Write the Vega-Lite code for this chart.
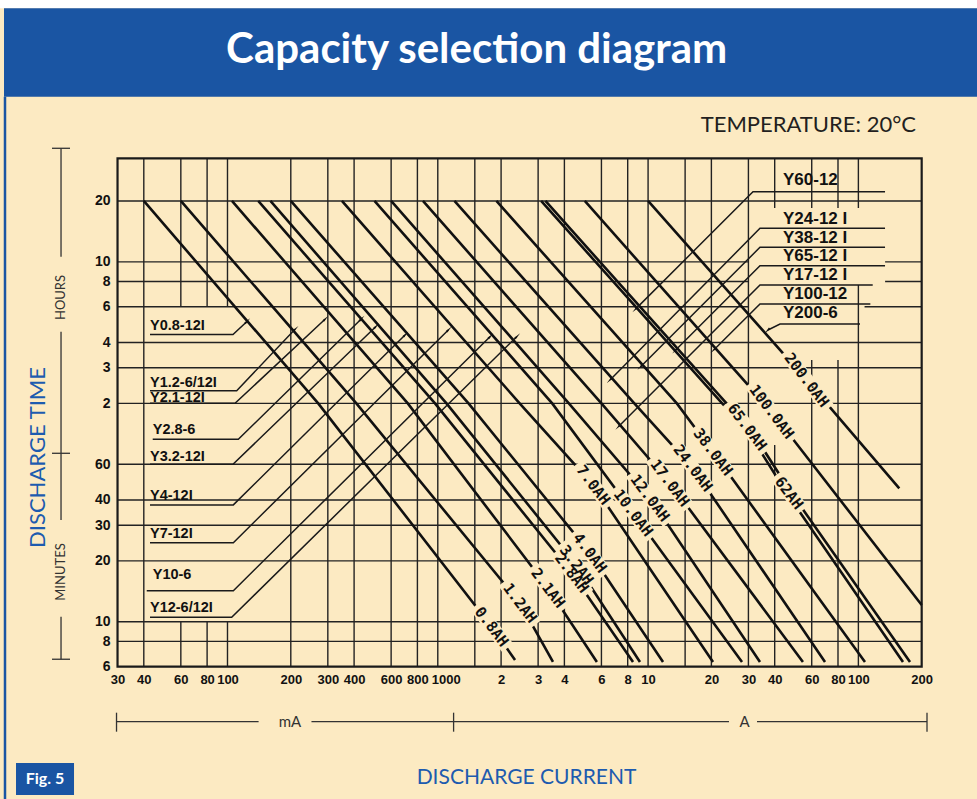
{
  "$schema": "https://vega.github.io/schema/vega-lite/v6.json",
  "width": 977,
  "height": 799,
  "autosize": {"type": "none"},
  "padding": 0,
  "background": "#FCEAC2",
  "config": {"view": {"stroke": null}},
  "datasets": {
    "vgrid": [
      {"I": 0.04, "t": 1950, "t2": 6},
      {"I": 0.06, "t": 1950, "t2": 360}, {"I": 0.06, "t": 10, "t2": 6},
      {"I": 0.08, "t": 1950, "t2": 360}, {"I": 0.08, "t": 10, "t2": 6},
      {"I": 0.1, "t": 1950, "t2": 360}, {"I": 0.1, "t": 10, "t2": 6},
      {"I": 0.2, "t": 1950, "t2": 6}, {"I": 0.3, "t": 1950, "t2": 6},
      {"I": 0.4, "t": 1950, "t2": 6}, {"I": 0.6, "t": 1950, "t2": 6},
      {"I": 0.8, "t": 1950, "t2": 6}, {"I": 1, "t": 1950, "t2": 6},
      {"I": 1.5, "t": 1950, "t2": 6}, {"I": 2, "t": 1950, "t2": 6},
      {"I": 3, "t": 1950, "t2": 6}, {"I": 4, "t": 1950, "t2": 6},
      {"I": 6, "t": 1950, "t2": 6}, {"I": 8, "t": 1950, "t2": 6},
      {"I": 10, "t": 1950, "t2": 6}, {"I": 15, "t": 1950, "t2": 6},
      {"I": 20, "t": 1950, "t2": 6}, {"I": 30, "t": 1950, "t2": 6},
      {"I": 40, "t": 1950, "t2": 1108}, {"I": 40, "t": 74.7, "t2": 6},
      {"I": 60, "t": 1950, "t2": 1108}, {"I": 60, "t": 196.6, "t2": 6},
      {"I": 80, "t": 1950, "t2": 1108}, {"I": 80, "t": 196.6, "t2": 6},
      {"I": 100, "t": 1950, "t2": 1108}, {"I": 100, "t": 461, "t2": 6}
    ],
    "hgrid": [
      {"t": 1200, "I": 0.03, "I2": 200},
      {"t": 600, "I": 0.03, "I2": 30}, {"t": 600, "I": 134, "I2": 200},
      {"t": 480, "I": 0.03, "I2": 30}, {"t": 480, "I": 134, "I2": 200},
      {"t": 360, "I": 0.03, "I2": 30}, {"t": 360, "I": 107, "I2": 200},
      {"t": 240, "I": 0.03, "I2": 200}, {"t": 180, "I": 0.03, "I2": 200},
      {"t": 120, "I": 0.03, "I2": 200}, {"t": 60, "I": 0.03, "I2": 200},
      {"t": 40, "I": 0.03, "I2": 200}, {"t": 30, "I": 0.03, "I2": 200},
      {"t": 20, "I": 0.03, "I2": 200}, {"t": 10, "I": 0.03, "I2": 200},
      {"t": 8, "I": 0.03, "I2": 200}
    ],
    "cap": [
      {"C": "0.8", "k": 0, "I": 0.04, "t": 1200}, {"C": "0.8", "k": 1, "I": 0.27, "t": 120}, {"C": "0.8", "k": 2, "I": 1.804, "t": 9.46}, {"C": "0.8", "k": 3, "I": 2.33, "t": 6.47},
      {"C": "1.2", "k": 0, "I": 0.06, "t": 1200}, {"C": "1.2", "k": 1, "I": 0.41, "t": 120}, {"C": "1.2", "k": 2, "I": 2.46, "t": 12.38}, {"C": "1.2", "k": 3, "I": 3.53, "t": 6.33},
      {"C": "2.1", "k": 0, "I": 0.105, "t": 1200}, {"C": "2.1", "k": 1, "I": 0.72, "t": 120}, {"C": "2.1", "k": 2, "I": 3.343, "t": 14.69}, {"C": "2.1", "k": 3, "I": 5.71, "t": 6.33},
      {"C": "2.8", "k": 0, "I": 0.14, "t": 1200}, {"C": "2.8", "k": 1, "I": 0.97, "t": 120}, {"C": "2.8", "k": 2, "I": 4.334, "t": 17.42}, {"C": "2.8", "k": 3, "I": 8.48, "t": 6.33},
      {"C": "3.2", "k": 0, "I": 0.16, "t": 1200}, {"C": "3.2", "k": 1, "I": 1.1, "t": 120}, {"C": "3.2", "k": 2, "I": 4.577, "t": 19.08}, {"C": "3.2", "k": 3, "I": 9.15, "t": 6.33},
      {"C": "4.0", "k": 0, "I": 0.2, "t": 1200}, {"C": "4.0", "k": 1, "I": 1.4, "t": 120}, {"C": "4.0", "k": 2, "I": 5.29, "t": 21.9}, {"C": "4.0", "k": 3, "I": 11.78, "t": 6.33},
      {"C": "7.0", "k": 0, "I": 0.35, "t": 1200}, {"C": "7.0", "k": 1, "I": 2.45, "t": 120}, {"C": "7.0", "k": 2, "I": 5.49, "t": 47.4}, {"C": "7.0", "k": 3, "I": 20.36, "t": 6.33},
      {"C": "10", "k": 0, "I": 0.5, "t": 1200}, {"C": "10", "k": 1, "I": 3.5, "t": 120}, {"C": "10", "k": 2, "I": 8.505, "t": 34.5}, {"C": "10", "k": 3, "I": 27.97, "t": 6.33},
      {"C": "12", "k": 0, "I": 0.6, "t": 1200}, {"C": "12", "k": 1, "I": 4.2, "t": 120}, {"C": "12", "k": 2, "I": 10.21, "t": 40.9}, {"C": "12", "k": 3, "I": 34.05, "t": 6.33},
      {"C": "17", "k": 0, "I": 0.85, "t": 1200}, {"C": "17", "k": 1, "I": 6.0, "t": 120}, {"C": "17", "k": 2, "I": 12.71, "t": 48.5}, {"C": "17", "k": 3, "I": 54.5, "t": 6.33},
      {"C": "24", "k": 0, "I": 1.2, "t": 1200}, {"C": "24", "k": 1, "I": 8.6, "t": 120}, {"C": "24", "k": 2, "I": 16.35, "t": 57.5}, {"C": "24", "k": 3, "I": 69.4, "t": 6.33},
      {"C": "38", "k": 0, "I": 1.9, "t": 1200}, {"C": "38", "k": 1, "I": 13.7, "t": 120}, {"C": "38", "k": 2, "I": 20.36, "t": 69.0}, {"C": "38", "k": 3, "I": 107.5, "t": 6.33},
      {"C": "62", "k": 0, "I": 3.1, "t": 1200}, {"C": "62", "k": 1, "I": 22.5, "t": 120}, {"C": "62", "k": 2, "I": 29.0, "t": 91.7}, {"C": "62", "k": 3, "I": 45.6, "t": 43.3}, {"C": "62", "k": 4, "I": 163, "t": 6.33},
      {"C": "65", "k": 0, "I": 3.25, "t": 1200}, {"C": "65", "k": 1, "I": 23.6, "t": 120}, {"C": "65", "k": 2, "I": 30.19, "t": 91.7}, {"C": "65", "k": 3, "I": 48.0, "t": 43.3}, {"C": "65", "k": 4, "I": 176, "t": 6.33},
      {"C": "100", "k": 0, "I": 5, "t": 1200}, {"C": "100", "k": 1, "I": 38.71, "t": 109.1}, {"C": "100", "k": 2, "I": 200, "t": 12.1},
      {"C": "200", "k": 0, "I": 10, "t": 1200}, {"C": "200", "k": 1, "I": 56.79, "t": 156.5}, {"C": "200", "k": 2, "I": 156.5, "t": 45.6}
    ],
    "labels": [
      {"label": "0.8AH", "I": 1.804, "t": 9.46},
      {"label": "1.2AH", "I": 2.46, "t": 12.38},
      {"label": "2.1AH", "I": 3.343, "t": 14.69},
      {"label": "2.8AH", "I": 4.334, "t": 17.42},
      {"label": "3.2AH", "I": 4.577, "t": 19.08},
      {"label": "4.0AH", "I": 5.29, "t": 21.9},
      {"label": "7.0AH", "I": 5.49, "t": 47.4},
      {"label": "10.0AH", "I": 8.505, "t": 34.5},
      {"label": "12.0AH", "I": 10.21, "t": 40.9},
      {"label": "17.0AH", "I": 12.71, "t": 48.5},
      {"label": "24.0AH", "I": 16.35, "t": 57.5},
      {"label": "38.0AH", "I": 20.36, "t": 69.0},
      {"label": "65.0AH", "I": 29.6, "t": 91.7},
      {"label": "100.0AH", "I": 38.71, "t": 109.1},
      {"label": "200.0AH", "I": 56.79, "t": 156.5},
      {"label": "62AH", "I": 46.8, "t": 43.3}
    ],
    "lleg": [
      {"label": "Y0.8-12I", "I": 0.0428, "t": 289.3},
      {"label": "Y1.2-6/12I", "I": 0.0428, "t": 151.5},
      {"label": "Y2.1-12I", "I": 0.0428, "t": 127.5},
      {"label": "Y2.8-6", "I": 0.0441, "t": 88.6},
      {"label": "Y3.2-12I", "I": 0.0428, "t": 65.0},
      {"label": "Y4-12I", "I": 0.0428, "t": 41.8},
      {"label": "Y7-12I", "I": 0.0428, "t": 27.2},
      {"label": "Y10-6", "I": 0.0441, "t": 17.03},
      {"label": "Y12-6/12I", "I": 0.0428, "t": 11.7}
    ],
    "lleader": [
      {"g": "L1", "k": 0, "I": 0.0428, "t": 262.7}, {"g": "L1", "k": 1, "I": 0.1062, "t": 262.7}, {"g": "L1", "k": 2, "I": 0.1234, "t": 303.9},
      {"g": "L2", "k": 0, "I": 0.0428, "t": 138.6}, {"g": "L2", "k": 1, "I": 0.1106, "t": 138.6}, {"g": "L2", "k": 2, "I": 0.2095, "t": 278.7},
      {"g": "L3", "k": 0, "I": 0.0428, "t": 120}, {"g": "L3", "k": 1, "I": 0.1086, "t": 120}, {"g": "L3", "k": 2, "I": 0.2909, "t": 312.3},
      {"g": "L4", "k": 0, "I": 0.0441, "t": 79.7}, {"g": "L4", "k": 1, "I": 0.1126, "t": 79.7}, {"g": "L4", "k": 2, "I": 0.4313, "t": 312.3},
      {"g": "L5", "k": 0, "I": 0.0428, "t": 60}, {"g": "L5", "k": 1, "I": 0.1062, "t": 60}, {"g": "L5", "k": 2, "I": 0.5067, "t": 287.1},
      {"g": "L6", "k": 0, "I": 0.0428, "t": 37.8}, {"g": "L6", "k": 1, "I": 0.1066, "t": 37.8}, {"g": "L6", "k": 2, "I": 0.6986, "t": 261.2},
      {"g": "L7", "k": 0, "I": 0.0428, "t": 24.6}, {"g": "L7", "k": 1, "I": 0.1066, "t": 24.6}, {"g": "L7", "k": 2, "I": 1.122, "t": 276.5},
      {"g": "L8", "k": 0, "I": 0.0413, "t": 14.24}, {"g": "L8", "k": 1, "I": 0.1066, "t": 14.24}, {"g": "L8", "k": 2, "I": 1.771, "t": 256.2},
      {"g": "L9", "k": 0, "I": 0.0428, "t": 10.52}, {"g": "L9", "k": 1, "I": 0.1047, "t": 10.52}, {"g": "L9", "k": 2, "I": 2.373, "t": 256.2}
    ],
    "larrow": [
      {"I": 0.1234, "t": 303.9}, {"I": 0.2095, "t": 278.7}, {"I": 0.2909, "t": 312.3},
      {"I": 0.4313, "t": 312.3}, {"I": 0.5067, "t": 287.1}, {"I": 0.6986, "t": 261.2},
      {"I": 1.122, "t": 276.5}, {"I": 1.771, "t": 256.2}, {"I": 2.373, "t": 256.2}
    ],
    "rleg": [
      {"label": "Y60-12", "I": 43.8, "t": 1523},
      {"label": "Y24-12 I", "I": 43.8, "t": 977.4},
      {"label": "Y38-12 I", "I": 43.8, "t": 787.4},
      {"label": "Y65-12 I", "I": 43.8, "t": 641.7},
      {"label": "Y17-12 I", "I": 43.8, "t": 516.9},
      {"label": "Y100-12", "I": 43.8, "t": 416.4},
      {"label": "Y200-6", "I": 43.8, "t": 335.4}
    ],
    "rleader": [
      {"g": "R1", "k": 0, "I": 133.9, "t": 1333}, {"g": "R1", "k": 1, "I": 31.54, "t": 1333}, {"g": "R1", "k": 2, "I": 8.74, "t": 351.5},
      {"g": "R2", "k": 0, "I": 133.9, "t": 879.3}, {"g": "R2", "k": 1, "I": 34.05, "t": 879.3}, {"g": "R2", "k": 2, "I": 6.61, "t": 157.1},
      {"g": "R3", "k": 0, "I": 133.9, "t": 708.5}, {"g": "R3", "k": 1, "I": 34.05, "t": 708.5}, {"g": "R3", "k": 2, "I": 9.24, "t": 182.7},
      {"g": "R4", "k": 0, "I": 133.9, "t": 574.6}, {"g": "R4", "k": 1, "I": 34.05, "t": 574.6}, {"g": "R4", "k": 2, "I": 13.53, "t": 220.2},
      {"g": "R5", "k": 0, "I": 117, "t": 461.3}, {"g": "R5", "k": 1, "I": 34.05, "t": 461.3}, {"g": "R5", "k": 2, "I": 7.26, "t": 92.5},
      {"g": "R6", "k": 0, "I": 114, "t": 371.6}, {"g": "R6", "k": 1, "I": 34.05, "t": 371.6}, {"g": "R6", "k": 2, "I": 20.58, "t": 221.0},
      {"g": "R7", "k": 0, "I": 101.8, "t": 296.0}, {"g": "R7", "k": 1, "I": 42.4, "t": 296.0}, {"g": "R7", "k": 2, "I": 37.17, "t": 276.5}
    ],
    "rarrow": [
      {"I": 8.74, "t": 351.5}, {"I": 6.61, "t": 157.1}, {"I": 9.24, "t": 182.7},
      {"I": 13.53, "t": 220.2}, {"I": 7.26, "t": 92.5}, {"I": 20.58, "t": 221.0}, {"I": 37.17, "t": 276.5}
    ],
    "brackets": [
      {"g": "h1", "k": 0, "I": 0.01616, "t": 2185}, {"g": "h1", "k": 1, "I": 0.01616, "t": 636.6},
      {"g": "h2", "k": 0, "I": 0.01616, "t": 271.2}, {"g": "h2", "k": 1, "I": 0.01616, "t": 31.84},
      {"g": "h3", "k": 0, "I": 0.01616, "t": 10.6}, {"g": "h3", "k": 1, "I": 0.01616, "t": 6.53},
      {"g": "h4", "k": 0, "I": 0.01464, "t": 2185}, {"g": "h4", "k": 1, "I": 0.01783, "t": 2185},
      {"g": "h5", "k": 0, "I": 0.01464, "t": 68.0}, {"g": "h5", "k": 1, "I": 0.01783, "t": 68.0},
      {"g": "h6", "k": 0, "I": 0.01464, "t": 6.53}, {"g": "h6", "k": 1, "I": 0.01783, "t": 6.53},
      {"g": "m1", "k": 0, "I": 0.02967, "t": 3.209}, {"g": "m1", "k": 1, "I": 0.1406, "t": 3.209},
      {"g": "m2", "k": 0, "I": 0.2508, "t": 3.209}, {"g": "m2", "k": 1, "I": 24.25, "t": 3.209},
      {"g": "m3", "k": 0, "I": 32.96, "t": 3.209}, {"g": "m3", "k": 1, "I": 212, "t": 3.209},
      {"g": "m4", "k": 0, "I": 0.02967, "t": 3.555}, {"g": "m4", "k": 1, "I": 0.02967, "t": 2.864},
      {"g": "m5", "k": 0, "I": 1.189, "t": 3.555}, {"g": "m5", "k": 1, "I": 1.189, "t": 2.864},
      {"g": "m6", "k": 0, "I": 212, "t": 3.555}, {"g": "m6", "k": 1, "I": 212, "t": 2.864}
    ]
  },
  "encoding": {
    "x": {
      "field": "I", "type": "quantitative",
      "scale": {"type": "log", "domain": [0.008284, 366.5], "nice": false, "zero": false},
      "axis": {
        "values": [0.03, 0.04, 0.06, 0.08, 0.1, 0.2, 0.3, 0.4, 0.6, 0.8, 1, 2, 3, 4, 6, 8, 10, 20, 30, 40, 60, 80, 100, 200],
        "labelExpr": "datum.value < 1.5 ? format(datum.value * 1000, 'd') : format(datum.value, 'd')",
        "labelOffset": {"condition": {"test": "datum.value == 1", "value": 8}, "value": 0},
        "offset": -132, "domain": false, "ticks": false, "tickSize": 0, "grid": false,
        "labelPadding": 6, "labelFont": "Liberation Sans",
        "labelFontSize": 13, "labelFontWeight": "bold", "labelColor": "#111111",
        "labelOverlap": false, "labelFlush": false, "labelBound": false,
        "title": "DISCHARGE CURRENT", "titleFont": "Lato", "titleFontSize": 21, "titleFontWeight": "normal",
        "titleColor": "#1D5BAF", "titleX": 526, "titleY": 110, "titleBaseline": "middle", "titleAlign": "center"
      }
    },
    "y": {
      "field": "t", "type": "quantitative",
      "scale": {"type": "log", "domain": [1.3317, 11806], "nice": false, "zero": false},
      "axis": {
        "values": [1200, 600, 480, 360, 240, 180, 120, 60, 40, 30, 20, 10, 8, 6],
        "labelExpr": "datum.value >= 120 ? format(datum.value / 60, 'd') : format(datum.value, 'd')",
        "offset": -117, "domain": false, "ticks": false, "tickSize": 0, "grid": false,
        "labelPadding": 7, "labelFont": "Liberation Sans",
        "labelFontSize": 14, "labelFontWeight": "bold", "labelColor": "#111111",
        "labelOverlap": false, "labelFlush": false, "labelBound": false,
        "title": "DISCHARGE TIME", "titleFont": "Lato", "titleFontSize": 22, "titleFontWeight": "normal",
        "titleColor": "#1D5BAF", "titleX": -80, "titleY": 457, "titleAngle": 270,
        "titleBaseline": "middle", "titleAlign": "center"
      }
    }
  },
  "layer": [
    {
      "data": {"values": [{"I": 0.008, "I2": 400, "t": 10742, "t2": 40000}]},
      "mark": {"type": "rect", "fill": "#FFFFFF"},
      "encoding": {"x2": {"field": "I2"}, "y2": {"field": "t2"}}
    },
    {
      "data": {"values": [{"I": 0.008655, "I2": 400, "t": 3929, "t2": 10742}]},
      "mark": {"type": "rect", "fill": "#1A55A3"},
      "encoding": {"x2": {"field": "I2"}, "y2": {"field": "t2"}}
    },
    {
      "data": {"values": [{"I": 0.00875, "t": 3929, "t2": 1.2}]},
      "mark": {"type": "rule", "stroke": "#1A55A3", "strokeWidth": 2.5},
      "encoding": {"y2": {"field": "t2"}}
    },
    {
      "data": {"values": [{"label": "Capacity selection diagram", "I": 1.53, "t": 6683}]},
      "mark": {"type": "text", "font": "Lato", "fontSize": 42, "fontWeight": "bold", "color": "#FFFFFF", "align": "center", "baseline": "middle"},
      "encoding": {"text": {"field": "label"}}
    },
    {
      "data": {"values": [{"label": "TEMPERATURE:  20°C", "I": 187.9, "t": 2848}]},
      "mark": {"type": "text", "font": "Lato", "fontSize": 22, "color": "#231F20", "align": "right", "baseline": "middle"},
      "encoding": {"text": {"field": "label"}}
    },
    {
      "data": {"name": "vgrid"},
      "mark": {"type": "rule", "stroke": "#222222", "strokeWidth": 1.4},
      "encoding": {"y2": {"field": "t2"}}
    },
    {
      "data": {"name": "hgrid"},
      "mark": {"type": "rule", "stroke": "#222222", "strokeWidth": 1.4},
      "encoding": {"x2": {"field": "I2"}}
    },
    {
      "data": {"values": [{"I": 0.03, "I2": 200, "t": 6, "t2": 1950}]},
      "mark": {"type": "rect", "fill": null, "filled": false, "stroke": "#1A1A1A", "strokeWidth": 2.2},
      "encoding": {"x2": {"field": "I2"}, "y2": {"field": "t2"}}
    },
    {
      "data": {"name": "cap"},
      "mark": {"type": "line", "stroke": "#111111", "strokeWidth": 2.6},
      "encoding": {"detail": {"field": "C"}, "order": {"field": "k"}}
    },
    {
      "data": {"name": "lleader"},
      "mark": {"type": "line", "stroke": "#1A1A1A", "strokeWidth": 1.5},
      "encoding": {"detail": {"field": "g"}, "order": {"field": "k"}}
    },
    {
      "data": {"name": "rleader"},
      "mark": {"type": "line", "stroke": "#1A1A1A", "strokeWidth": 1.5},
      "encoding": {"detail": {"field": "g"}, "order": {"field": "k"}}
    },
    {
      "data": {"name": "larrow"},
      "mark": {"type": "point", "shape": "wedge", "filled": true, "fill": "#111111", "size": 70, "angle": 45, "opacity": 1, "strokeWidth": 0}
    },
    {
      "data": {"name": "rarrow"},
      "mark": {"type": "point", "shape": "wedge", "filled": true, "fill": "#111111", "size": 70, "angle": 225, "opacity": 1, "strokeWidth": 0}
    },
    {
      "data": {"name": "labels"},
      "mark": {"type": "point", "filled": true, "fill": "#FCEAC2", "opacity": 1, "size": 196, "angle": 53, "strokeWidth": 0},
      "encoding": {
        "shape": {
          "field": "label", "type": "nominal", "legend": null,
          "scale": {
            "domain": ["0.8AH", "1.2AH", "2.1AH", "2.8AH", "3.2AH", "4.0AH", "7.0AH", "10.0AH", "12.0AH", "17.0AH", "24.0AH", "38.0AH", "65.0AH", "100.0AH", "200.0AH", "62AH"],
            "range": [
              "M-3.8,-1L3.8,-1L3.8,1L-3.8,1Z", "M-3.8,-1L3.8,-1L3.8,1L-3.8,1Z", "M-3.8,-1L3.8,-1L3.8,1L-3.8,1Z", "M-3.8,-1L3.8,-1L3.8,1L-3.8,1Z",
              "M-3.8,-1L3.8,-1L3.8,1L-3.8,1Z", "M-3.8,-1L3.8,-1L3.8,1L-3.8,1Z", "M-3.8,-1L3.8,-1L3.8,1L-3.8,1Z",
              "M-4.45,-1L4.45,-1L4.45,1L-4.45,1Z", "M-4.45,-1L4.45,-1L4.45,1L-4.45,1Z", "M-4.45,-1L4.45,-1L4.45,1L-4.45,1Z",
              "M-4.45,-1L4.45,-1L4.45,1L-4.45,1Z", "M-4.45,-1L4.45,-1L4.45,1L-4.45,1Z", "M-4.45,-1L4.45,-1L4.45,1L-4.45,1Z",
              "M-5.1,-1L5.1,-1L5.1,1L-5.1,1Z", "M-5.1,-1L5.1,-1L5.1,1L-5.1,1Z", "M-3.15,-1L3.15,-1L3.15,1L-3.15,1Z"
            ]
          }
        }
      }
    },
    {
      "data": {"name": "labels"},
      "mark": {"type": "text", "font": "DejaVu Sans Mono", "fontSize": 15, "fontWeight": "bold", "color": "#111111", "angle": 53, "align": "center", "baseline": "middle"},
      "encoding": {"text": {"field": "label"}}
    },
    {
      "data": {"name": "lleg"},
      "mark": {"type": "text", "font": "Liberation Sans", "fontSize": 14.5, "fontWeight": "bold", "color": "#111111", "align": "left", "baseline": "middle"},
      "encoding": {"text": {"field": "label"}}
    },
    {
      "data": {"name": "rleg"},
      "mark": {"type": "text", "font": "Liberation Sans", "fontSize": 17, "fontWeight": "bold", "color": "#111111", "align": "left", "baseline": "middle"},
      "encoding": {"text": {"field": "label"}}
    },
    {
      "data": {"name": "brackets"},
      "mark": {"type": "line", "stroke": "#333333", "strokeWidth": 1.3},
      "encoding": {"detail": {"field": "g"}, "order": {"field": "k"}}
    },
    {
      "data": {"values": [{"label": "HOURS", "I": 0.01616, "t": 400.2}, {"label": "MINUTES", "I": 0.01616, "t": 17.62}]},
      "mark": {"type": "text", "font": "Lato", "fontSize": 13, "color": "#333333", "angle": 270, "align": "center", "baseline": "middle"},
      "encoding": {"text": {"field": "label"}}
    },
    {
      "data": {"values": [{"label": "mA", "I": 0.1982, "t": 3.209}, {"label": "A", "I": 28.73, "t": 3.209}]},
      "mark": {"type": "text", "font": "Lato", "fontSize": 15, "color": "#333333", "align": "center", "baseline": "middle"},
      "encoding": {"text": {"field": "label"}}
    },
    {
      "data": {"values": [{"I": 0.009871, "I2": 0.01863, "t": 2.006, "t2": 1.394}]},
      "mark": {"type": "rect", "fill": "#1A55A3"},
      "encoding": {"x2": {"field": "I2"}, "y2": {"field": "t2"}}
    },
    {
      "data": {"values": [{"label": "Fig. 5", "I": 0.01356, "t": 1.672}]},
      "mark": {"type": "text", "font": "Lato", "fontSize": 16, "fontWeight": "bold", "color": "#FFFFFF", "align": "center", "baseline": "middle"},
      "encoding": {"text": {"field": "label"}}
    }
  ]
}
